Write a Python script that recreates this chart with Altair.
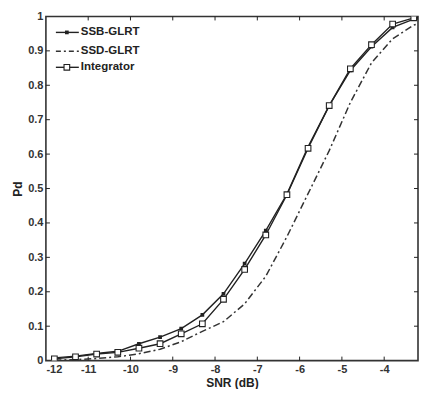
import altair as alt
import pandas as pd

# ---- data ----
snr = [-11.8, -11.3, -10.8, -10.3, -9.8, -9.3, -8.8, -8.3, -7.8, -7.3,
       -6.8, -6.3, -5.8, -5.3, -4.8, -4.3, -3.8, -3.3, -2.8]
ssb_glrt = [0.008, 0.013, 0.021, 0.027, 0.049, 0.068, 0.093, 0.133, 0.194, 0.282,
            0.378, 0.484, 0.621, 0.741, 0.843, 0.912, 0.968, 0.992, 0.999]
ssd_glrt = [0.001, 0.003, 0.006, 0.011, 0.020, 0.033, 0.055, 0.085, 0.113, 0.165,
            0.245, 0.360, 0.485, 0.610, 0.750, 0.865, 0.935, 0.975, 0.995]
integrator = [0.005, 0.011, 0.019, 0.024, 0.036, 0.049, 0.078, 0.107, 0.178, 0.265,
              0.365, 0.482, 0.617, 0.741, 0.848, 0.918, 0.978, 0.996, 1.000]
series_names = ["SSB-GLRT", "SSD-GLRT", "Integrator"]
x_ticks = [-12, -11, -10, -9, -8, -7, -6, -5, -4]
y_ticks = [0, 0.1, 0.2, 0.3, 0.4, 0.5, 0.6, 0.7, 0.8, 0.9, 1]
x_range = [-12, -3.2]   # the reference picture is cropped just before -3

W, H = 373, 345
INK = "#222222"
FONT = "Liberation Sans"

df_ssb = pd.DataFrame({"snr": snr, "pd": ssb_glrt})
df_ssd = pd.DataFrame({"snr": snr, "pd": ssd_glrt})
df_int = pd.DataFrame({"snr": snr, "pd": integrator})

x_scale = alt.Scale(domain=x_range, nice=False, zero=False)
y_scale = alt.Scale(domain=[0, 1], nice=False, zero=False)

x_axis = alt.Axis(values=x_ticks, title="SNR (dB)", tickSize=0, labelPadding=3,
                  grid=False, domain=False, titlePadding=3,
                  labelExpr="replace(datum.label, '\u2212', '-')")
y_axis = alt.Axis(values=y_ticks, title="Pd", tickSize=0, labelPadding=3,
                  grid=False, domain=False, titlePadding=3,
                  labelExpr="datum.value == 0 ? '0' : datum.value == 1 ? '1' : format(datum.value, '.1f')")


def X(field):
    return alt.X(f"{field}:Q", scale=x_scale, axis=x_axis)


def Y(field):
    return alt.Y(f"{field}:Q", scale=y_scale, axis=y_axis)


ssb_line = alt.Chart(df_ssb).mark_line(color=INK, strokeWidth=1.4, clip=True).encode(x=X("snr"), y=Y("pd"))
ssb_pts = alt.Chart(df_ssb).mark_square(color=INK, size=14, opacity=1, clip=True).encode(x=X("snr"), y=Y("pd"))
ssd_line = alt.Chart(df_ssd).mark_line(color="#333333", strokeWidth=1.5, strokeDash=[7, 3, 2, 3], clip=True).encode(x=X("snr"), y=Y("pd"))
int_line = alt.Chart(df_int).mark_line(color=INK, strokeWidth=1.4, clip=True).encode(x=X("snr"), y=Y("pd"))
int_pts = alt.Chart(df_int).mark_square(fill="white", stroke=INK, strokeWidth=1.1, size=32,
                                        opacity=1, fillOpacity=1, clip=True).encode(x=X("snr"), y=Y("pd"))

# inward MATLAB-style ticks on all four sides
df_xt = pd.DataFrame({"t": x_ticks[1:]})
df_yt = pd.DataFrame({"t": y_ticks[1:-1]})
tick_style = dict(color=INK, strokeWidth=1)
xt_bot = alt.Chart(df_xt).mark_rule(**tick_style).encode(x=X("t"), y=alt.value(H), y2=alt.value(H - 4))
xt_top = alt.Chart(df_xt).mark_rule(**tick_style).encode(x=X("t"), y=alt.value(0), y2=alt.value(4))
yt_left = alt.Chart(df_yt).mark_rule(**tick_style).encode(y=Y("t"), x=alt.value(0), x2=alt.value(4))
yt_right = alt.Chart(df_yt).mark_rule(**tick_style).encode(y=Y("t"), x=alt.value(W), x2=alt.value(W - 4))

# legend (top-left, inside the axes)
legend_layers = []
leg_y = [16, 35, 51]
for i, name in enumerate(series_names):
    d = pd.DataFrame({"label": [name]})
    if name == "SSD-GLRT":
        rule = alt.Chart(d).mark_rule(color="#333333", strokeWidth=1.5, strokeDash=[5, 3, 2, 3])
    else:
        rule = alt.Chart(d).mark_rule(color=INK, strokeWidth=1.4)
    legend_layers.append(rule.encode(x=alt.value(10), x2=alt.value(33), y=alt.value(leg_y[i])))
    if name == "SSB-GLRT":
        legend_layers.append(alt.Chart(d).mark_square(color=INK, size=14, opacity=1)
                             .encode(x=alt.value(21), y=alt.value(leg_y[i])))
    if name == "Integrator":
        legend_layers.append(alt.Chart(d).mark_square(fill="white", stroke=INK, strokeWidth=1.1,
                                                      size=32, opacity=1, fillOpacity=1)
                             .encode(x=alt.value(21), y=alt.value(leg_y[i])))
    legend_layers.append(alt.Chart(d).mark_text(align="left", baseline="middle", font=FONT,
                                                fontSize=11.5, fontWeight="bold", color=INK)
                         .encode(x=alt.value(35), y=alt.value(leg_y[i]), text="label:N"))

chart = alt.layer(
    ssd_line, ssb_line, int_line, ssb_pts, int_pts,
    xt_bot, xt_top, yt_left, yt_right,
    *legend_layers
).properties(
    width=W, height=H,
    padding={"left": 3, "top": 2, "right": 0, "bottom": 0},
    background="white",
).configure_view(
    stroke="#333333", strokeWidth=1.6
).configure_axis(
    labelFont=FONT, labelFontSize=11, labelFontWeight="bold", labelColor="#333333",
    titleFont=FONT, titleFontSize=12, titleFontWeight="bold", titleColor=INK,
)

chart.save("out.html", embed_options={"renderer": "svg", "actions": False})
